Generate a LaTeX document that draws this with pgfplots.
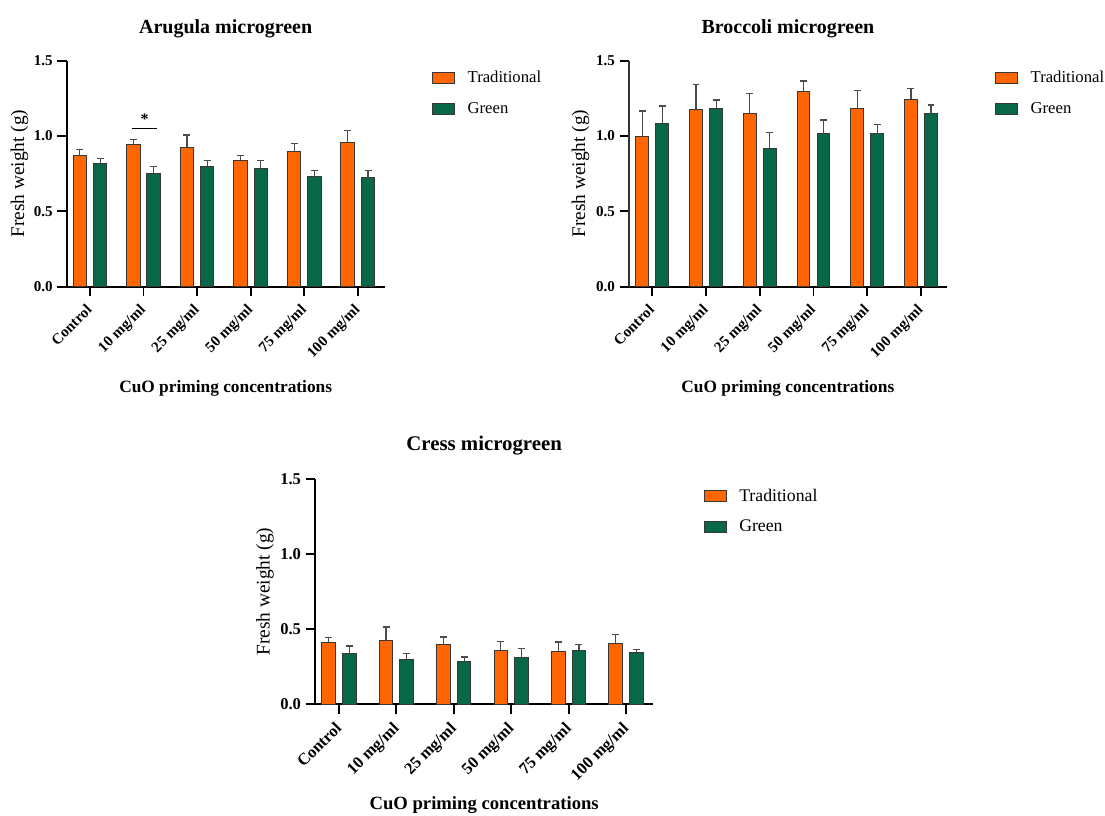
\documentclass[border=0pt]{standalone}
\usepackage{fontspec}
\setmainfont{Liberation Serif}
\usepackage{pgfplots}
\pgfplotsset{compat=1.18}
\usepackage{pgfplotstable}

\definecolor{trad}{RGB}{255,102,0}
\definecolor{grn}{RGB}{6,104,70}
\definecolor{edge}{RGB}{55,55,55}
\definecolor{errc}{RGB}{75,75,75}

% x = category, t/te = traditional mean/+error, g/ge = green mean/+error
\pgfplotstableread{
x t     te    g     ge
0 0.874 0.037 0.819 0.033
1 0.942 0.036 0.752 0.044
2 0.927 0.080 0.801 0.035
3 0.838 0.031 0.788 0.050
4 0.896 0.053 0.730 0.042
5 0.956 0.082 0.723 0.051
}\arugula

\pgfplotstableread{
x t     te    g     ge
0 1.000 0.166 1.082 0.117
1 1.177 0.164 1.184 0.055
2 1.148 0.133 0.920 0.102
3 1.296 0.069 1.015 0.091
4 1.184 0.121 1.015 0.060
5 1.243 0.071 1.148 0.058
}\broccoli

\pgfplotstableread{
x t     te    g     ge
0 0.413 0.033 0.339 0.049
1 0.426 0.089 0.300 0.039
2 0.397 0.051 0.286 0.029
3 0.359 0.058 0.315 0.058
4 0.353 0.062 0.359 0.038
5 0.406 0.060 0.346 0.020
}\cress

\pgfplotsset{
  mgpanel/.style={
    scale only axis, anchor=south west,
    ymin=0, ymax=1.5,
    axis lines=left,
    axis line style={-, line width=1.4pt, black},
    tick style={black, line width=1.4pt},
    major tick length=7pt,
    tick align=outside,
    xtick={0,...,5},
    xticklabels={Control,10 mg/ml,25 mg/ml,50 mg/ml,75 mg/ml,100 mg/ml},
    ytick={0,0.5,1,1.5},
    yticklabels={0.0,0.5,1.0,1.5},
    xlabel={CuO priming concentrations},
    ylabel={Fresh weight (g)},
    ybar,
    legend image code/.code={\draw[#1] (0pt,-4.3pt) rectangle (16.5pt,4.3pt);},
    legend cell align=left,
    legend style={anchor=north west, draw=none, fill=none, inner sep=0pt,
      row sep=13.3pt, nodes={inner sep=0pt},
      /tikz/every odd column/.append style={column sep=9.5pt}},
    title style={anchor=center},
    xlabel style={anchor=center},
    ylabel style={anchor=center},
    xticklabel style={rotate=45, anchor=north east, inner sep=0pt, xshift=-6.2pt, yshift=-1.2pt},
  },
  tradbar/.style={fill=trad, draw=edge, line width=0.75pt},
  grnbar/.style={fill=grn, draw=edge, line width=0.75pt},
  errb/.style={
    /pgfplots/error bars/y dir=plus,
    /pgfplots/error bars/y explicit,
    /pgfplots/error bars/error mark=-,
    /pgfplots/error bars/error bar style={line width=0.9pt, color=errc},
    /pgfplots/error bars/error mark options={line width=0.9pt, color=errc, mark size=2.6pt, rotate=90},
  },
  smallfonts/.style={
    ticklabel style={font=\bfseries\fontsize{11.3}{13}\selectfont},
    title style={font=\bfseries\fontsize{15}{18}\selectfont},
    xlabel style={font=\bfseries\fontsize{13}{15}\selectfont},
    ylabel style={font=\fontsize{14.5}{17}\selectfont},
    legend style={font=\fontsize{12.5}{15}\selectfont},
  },
}

\begin{document}
\begin{tikzpicture}
\path[use as bounding box] (0pt,0pt) rectangle (828.75pt,611.25pt);

% Arugula
\begin{axis}[mgpanel, smallfonts,
    at={(50.0pt,396.2pt)}, width=238.5pt, height=169.5pt,
    xmin=-0.434, xmax=5.5, bar width=0.25,
    title={Arugula microgreen},
    title style={at={(axis description cs:0.5,1.106)}},
    xlabel style={at={(axis description cs:0.5,-0.448)}},
    ylabel style={at={(axis description cs:-0.148,0.5)}},
    legend style={at={(1.148,0.955)}},
  ]
  \addplot[tradbar, bar shift=-0.19, errb] table[x=x, y=t, y error=te] {\arugula};
  \addplot[grnbar, bar shift=0.19, errb] table[x=x, y=g, y error=ge] {\arugula};
  \legend{Traditional, Green}
  \draw[line width=0.75pt] (axis cs:0.78,1.051) -- (axis cs:1.26,1.051);
  \node[font=\bfseries\fontsize{12}{12}\selectfont] at (axis cs:1.02,1.11) {*};
\end{axis}

% Broccoli
\begin{axis}[mgpanel, smallfonts,
    at={(471.75pt,396.2pt)}, width=238.3pt, height=169.5pt,
    xmin=-0.434, xmax=5.48, bar width=0.24,
    y axis line style={line width=0.8pt, black!80},
    title={Broccoli microgreen},
    title style={at={(axis description cs:0.5,1.106)}},
    xlabel style={at={(axis description cs:0.5,-0.448)}},
    ylabel style={at={(axis description cs:-0.153,0.5)}},
    legend style={at={(1.151,0.955)}},
  ]
  \addplot[tradbar, bar shift=-0.187, errb] table[x=x, y=t, y error=te] {\broccoli};
  \addplot[grnbar, bar shift=0.187, errb] table[x=x, y=g, y error=ge] {\broccoli};
  \legend{Traditional, Green}
\end{axis}

% Cress
\begin{axis}[mgpanel,
    at={(236.25pt,83.0pt)}, width=253.7pt, height=169pt,
    xmin=-0.418, xmax=5.475, bar width=0.235,
    ticklabel style={font=\bfseries\fontsize{12.4}{14}\selectfont},
    title style={font=\bfseries\fontsize{15.6}{18}\selectfont},
    xlabel style={font=\bfseries\fontsize{14}{16}\selectfont},
    ylabel style={font=\fontsize{14.5}{17}\selectfont},
    legend style={font=\fontsize{13.3}{16}\selectfont, row sep=12.9pt},
    title={Cress microgreen},
    title style={at={(axis description cs:0.5,1.111)}},
    xlabel style={at={(axis description cs:0.5,-0.447)}},
    ylabel style={at={(axis description cs:-0.148,0.5)}},
    legend style={at={(1.148,0.958)}},
  ]
  \addplot[tradbar, bar shift=-0.18, errb] table[x=x, y=t, y error=te] {\cress};
  \addplot[grnbar, bar shift=0.18, errb] table[x=x, y=g, y error=ge] {\cress};
  \legend{Traditional, Green}
\end{axis}
\end{tikzpicture}
\end{document}
